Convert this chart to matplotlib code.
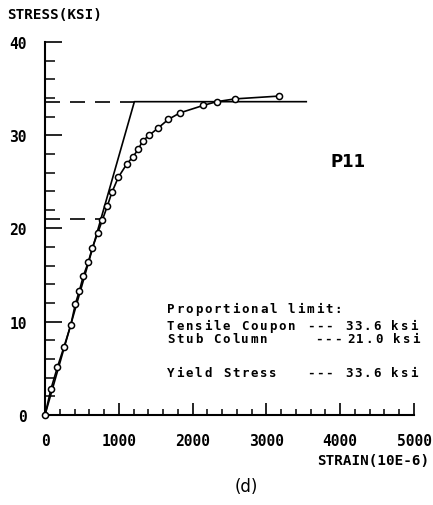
import matplotlib
matplotlib.use("Agg")
import matplotlib.pyplot as plt
import matplotlib.transforms as mtransforms
from matplotlib.ticker import MultipleLocator

# Measured stress-strain points, specimen P11
strain = [0, 81, 167, 257, 348, 411, 465, 519, 587, 640, 714, 777, 844, 908,
          994, 1107, 1192, 1265, 1323, 1413, 1536, 1671, 1829, 2145, 2326,
          2575, 3171]
stress = [0, 2.8, 5.1, 7.3, 9.6, 11.9, 13.3, 14.9, 16.4, 17.9, 19.5, 20.9,
          22.4, 23.9, 25.5, 26.9, 27.7, 28.5, 29.4, 30.0, 30.8, 31.7, 32.4,
          33.2, 33.6, 33.9, 34.2]

# Idealised bilinear curve (elastic line + yield plateau)
bilinear_strain = [0, 1211, 3540]
bilinear_stress = [0, 33.6, 33.6]

# Proportional limits
tensile_limit = 33.6
stub_limit = 21.0
stub_limit_strain = 760
yield_stress = 33.6

W, H, DPI = 433, 506, 100
fig = plt.figure(figsize=(W / DPI, H / DPI), dpi=DPI)
ax = fig.add_axes([45 / W, 1 - 416 / H, (414 - 45) / W, (416 - 43) / H])

lw = 1.2
ax.plot(bilinear_strain, bilinear_stress, color="black", lw=lw)
ax.plot(strain, stress, color="black", lw=lw, marker="o", markersize=4.4,
        markerfacecolor="white", markeredgecolor="black", markeredgewidth=1.1,
        clip_on=False, zorder=3)
ax.plot([0, bilinear_strain[1]], [tensile_limit, tensile_limit], color="black",
        lw=lw, dashes=(9, 6))
ax.plot([0, stub_limit_strain], [stub_limit, stub_limit], color="black",
        lw=lw, dashes=(9, 6))

ax.set_xlim(0, 5000)
ax.set_ylim(0, 40)
for s in ("top", "right"):
    ax.spines[s].set_visible(False)
for s in ("left", "bottom"):
    ax.spines[s].set_linewidth(1.5)

ax.xaxis.set_major_locator(MultipleLocator(1000))
ax.xaxis.set_minor_locator(MultipleLocator(200))
ax.yaxis.set_major_locator(MultipleLocator(10))
ax.yaxis.set_minor_locator(MultipleLocator(2))
ax.tick_params(axis="x", which="major", direction="in", length=9, width=1.2,
               pad=13)
ax.tick_params(axis="x", which="minor", direction="in", length=4.5, width=1.1)
ax.tick_params(axis="y", which="major", direction="in", length=12, width=1.2,
               pad=13)
ax.tick_params(axis="y", which="minor", direction="in", length=7, width=1.1)

tick_font = dict(family="DejaVu Sans Mono", weight="bold", size=10.5)
for lab in ax.get_xticklabels() + ax.get_yticklabels():
    lab.set_fontproperties(matplotlib.font_manager.FontProperties(**tick_font))

fig.text(7 / W, 1 - 15 / H, "STRESS(KSI)", ha="left", va="center",
         family="DejaVu Sans Mono", weight="bold", size=10.3)
fig.text(429 / W, 1 - 461 / H, "STRAIN(10E-6)", ha="right", va="center",
         family="DejaVu Sans Mono", weight="bold", size=10.3)
fig.text(246 / W, 1 - 487 / H, "(d)", ha="center", va="center",
         family="DejaVu Sans", size=12)

ax.text(4100, 27.2, "P11", ha="center", va="center",
        family="DejaVu Sans", weight="bold", size=12)

# Letter-spaced typewriter text for the note block
ADV = 9.3 * 72 / DPI  # character advance in points


def spaced(x, y, s):
    for i, ch in enumerate(s):
        if ch == " ":
            continue
        tr = mtransforms.offset_copy(ax.transData, fig=fig, x=i * ADV, y=0,
                                     units="points")
        ax.text(x, y, ch, transform=tr, ha="left", va="center",
                family="DejaVu Sans Mono", weight="bold", size=9)


spaced(1653, 11.4, "Proportional limit:")
spaced(1653, 9.6, "Tensile Coupon")
spaced(3550, 9.6, "---")
spaced(4065, 9.6, f"{tensile_limit:.1f} ksi")
spaced(1653, 8.2, "Stub Column")
spaced(3659, 8.2, "---")
spaced(4092, 8.2, f"{stub_limit:.1f} ksi")
spaced(1653, 4.6, "Yield Stress")
spaced(3550, 4.6, "---")
spaced(4065, 4.6, f"{yield_stress:.1f} ksi")

fig.savefig("out.png", dpi=DPI)
